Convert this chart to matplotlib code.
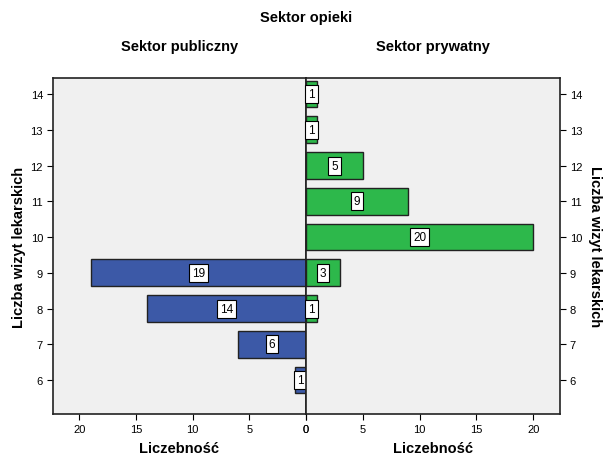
import matplotlib
matplotlib.use("Agg")
import matplotlib.pyplot as plt
from matplotlib import font_manager

# avoid condensed variants being picked
font_manager.fontManager.ttflist = [f for f in font_manager.fontManager.ttflist
                                    if 'Narrow' not in f.fname and 'Narrow' not in f.name]
plt.rcParams['font.family'] = ['Liberation Sans', 'DejaVu Sans']

visits = [6, 7, 8, 9, 10, 11, 12, 13, 14]
public_visits = [6, 7, 8, 9]
public_counts = [1, 6, 14, 19]
private_visits = [8, 9, 10, 11, 12, 13, 14]
private_counts = [1, 3, 20, 9, 5, 1, 1]
xticks = [0, 5, 10, 15, 20]

W, H = 604, 456
fig = plt.figure(figsize=(W / 100, H / 100), dpi=100)
fig.patch.set_facecolor('white')

x0, xm, x1 = 52.7, 306, 560
ytop, ybot = 79, 415
axL = fig.add_axes([x0 / W, (H - ybot) / H, (xm - x0) / W, (ybot - ytop) / H])
axR = fig.add_axes([xm / W, (H - ybot) / H, (x1 - xm) / W, (ybot - ytop) / H])

blue = '#3c59a7'
green = '#2db84b'
bh = 0.75

for ax, vis, cnt, col in [(axL, public_visits, public_counts, blue),
                          (axR, private_visits, private_counts, green)]:
    ax.set_facecolor('#f0f0f0')
    ax.barh(vis, cnt, height=bh, color=col, edgecolor='#222222', linewidth=1.0, zorder=2)
    for v, c in zip(vis, cnt):
        ax.text(c / 2, v, str(c), ha='center', va='center', fontsize=8.5, zorder=3,
                bbox=dict(boxstyle='square,pad=0.25', facecolor='white',
                          edgecolor='black', linewidth=0.8))
    ax.set_xlim(0, 22.35)
    ax.set_ylim(5.05, 14.45)
    ax.set_xticks(xticks)
    ax.set_yticks(visits)
    ax.tick_params(labelsize=8, length=4, width=0.8, color='black', pad=3)
    for s in ax.spines.values():
        s.set_linewidth(1.2)
        s.set_color('#222222')
    ax.set_xlabel('Liczebność', fontsize=10.5, fontweight='bold', labelpad=5)

axL.invert_xaxis()
axR.yaxis.tick_right()
axR.yaxis.set_label_position('right')

axL.set_ylabel('Liczba wizyt lekarskich', fontsize=10.5, fontweight='bold', labelpad=3)
axR.set_ylabel('Liczba wizyt lekarskich', fontsize=10.5, fontweight='bold',
               rotation=270, labelpad=14)

fig.text((x0 + xm) / 2 / W, 1 - 47 / H, 'Sektor publiczny', ha='center', va='center',
         fontsize=10.5, fontweight='bold')
fig.text((xm + x1) / 2 / W, 1 - 47 / H, 'Sektor prywatny', ha='center', va='center',
         fontsize=10.5, fontweight='bold')
fig.text(xm / W, 1 - 18 / H, 'Sektor opieki', ha='center', va='center',
         fontsize=10.5, fontweight='bold')

fig.savefig('out.png', dpi=100)
